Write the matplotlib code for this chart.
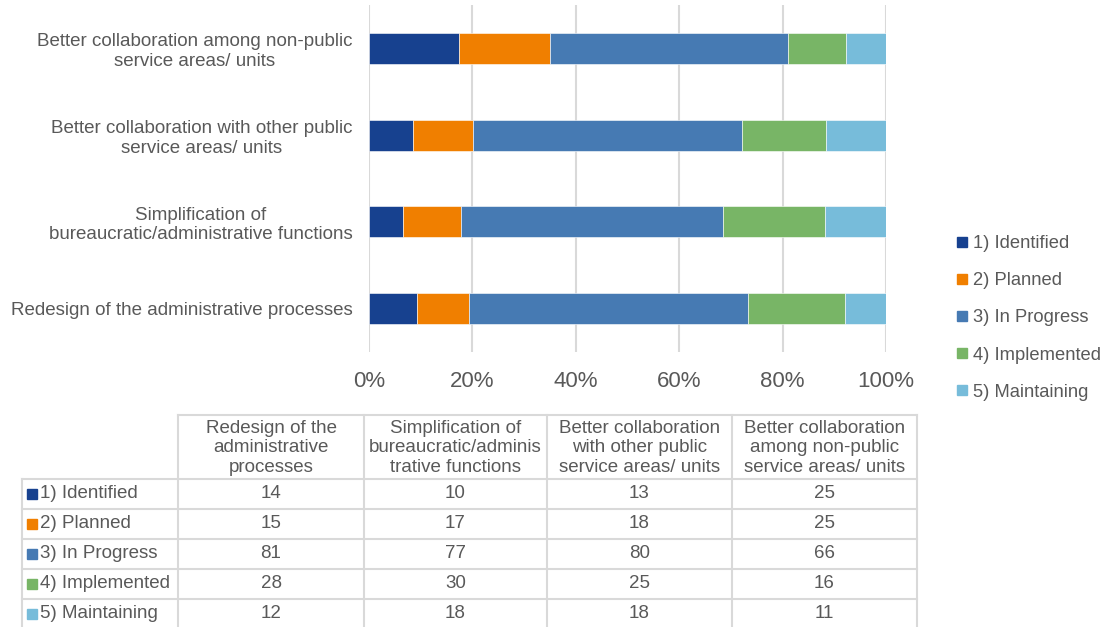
import matplotlib.pyplot as plt
from matplotlib.lines import Line2D
import numpy as np

plt.rcParams['font.family'] = ['Liberation Sans', 'DejaVu Sans']

# data
categories = ['Redesign of the administrative processes',
              'Simplification of\nbureaucratic/administrative functions',
              'Better collaboration with other public\nservice areas/ units',
              'Better collaboration among non-public\nservice areas/ units']
table_headers = ['Redesign of the\nadministrative\nprocesses',
                 'Simplification of\nbureaucratic/adminis\ntrative functions',
                 'Better collaboration\nwith other public\nservice areas/ units',
                 'Better collaboration\namong non-public\nservice areas/ units']
stages = ['1) Identified', '2) Planned', '3) In Progress', '4) Implemented', '5) Maintaining']
identified = [14, 10, 13, 25]
planned = [15, 17, 18, 25]
in_progress = [81, 77, 80, 66]
implemented = [28, 30, 25, 16]
maintaining = [12, 18, 18, 11]
xticks = [0, 20, 40, 60, 80, 100]

colors = ['#17418F', '#F07F00', '#467AB3', '#78B566', '#77BCDA']
txt = '#595959'
grid = '#D9D9D9'

series = [identified, planned, in_progress, implemented, maintaining]
counts = np.array(series, dtype=float)
pct = counts / counts.sum(axis=0) * 100

W, H = 1105, 627
fig = plt.figure(figsize=(W / 100, H / 100), dpi=100)

ax = fig.add_axes([369 / W, (H - 352) / H, 517 / W, 347 / H])
y = np.arange(len(categories))
left = np.zeros(len(categories))
for i, name in enumerate(stages):
    ax.barh(y, pct[i], left=left, height=0.36, color=colors[i],
            edgecolor='white', linewidth=0.4, zorder=3)
    left += pct[i]

ax.set_xlim(0, 100)
ax.set_ylim(-0.5, 3.5)
ax.set_xticks(xticks)
ax.set_xticklabels([f'{t}%' for t in xticks])
ax.set_yticks(y)
ax.set_yticklabels(categories, multialignment='center')
ax.tick_params(axis='x', length=0, pad=14, labelsize=16, labelcolor=txt)
ax.tick_params(axis='y', length=0, pad=12, labelsize=13.5, labelcolor=txt)
for s in ax.spines.values():
    s.set_visible(False)
ax.grid(axis='x', color=grid, linewidth=1.5, zorder=0)
ax.set_axisbelow(True)

# legend on the right
handles = [Line2D([], [], marker='s', linestyle='none', markersize=7.5,
                  markerfacecolor=c, markeredgecolor=c) for c in colors]
fig.legend(handles, stages, loc='center left',
           bbox_to_anchor=(947 / W, (H - 318) / H), frameon=False,
           fontsize=13.2, labelcolor=txt, handlelength=0.6,
           handletextpad=0.3, labelspacing=1.1, borderpad=0)

# data table below the chart, drawn in pixel coordinates
tab = fig.add_axes([0, 0, 1, 1], zorder=-1)
tab.set_xlim(0, W)
tab.set_ylim(H, 0)
tab.axis('off')
col_x = [22, 178, 364, 547, 732, 917]
head_top, head_bot = 415, 479
row_h = 30
row_y = [head_bot + row_h * i for i in range(len(stages) + 1)]
lw = 1.5

tab.plot([col_x[1], col_x[-1]], [head_top, head_top], color=grid, lw=lw)
for yy in row_y:
    tab.plot([col_x[0], col_x[-1]], [yy, yy], color=grid, lw=lw)
tab.plot([col_x[0], col_x[0]], [head_bot, H], color=grid, lw=lw)
for xx in col_x[1:]:
    tab.plot([xx, xx], [head_top, H], color=grid, lw=lw)

for j, h in enumerate(table_headers):
    tab.text((col_x[j + 1] + col_x[j + 2]) / 2, (head_top + head_bot) / 2 + 1, h,
             ha='center', va='center', fontsize=13.5, color=txt,
             linespacing=1.2, multialignment='center')

for i, name in enumerate(stages):
    cy = row_y[i] + row_h / 2
    tab.plot([32], [cy], marker='s', markersize=7.5, color=colors[i])
    tab.text(40, cy, name, ha='left', va='center', fontsize=13.5, color=txt)
    for j in range(len(categories)):
        tab.text((col_x[j + 1] + col_x[j + 2]) / 2, cy, str(series[i][j]),
                 ha='center', va='center', fontsize=13.5, color=txt)

fig.savefig('out.png', dpi=100)
